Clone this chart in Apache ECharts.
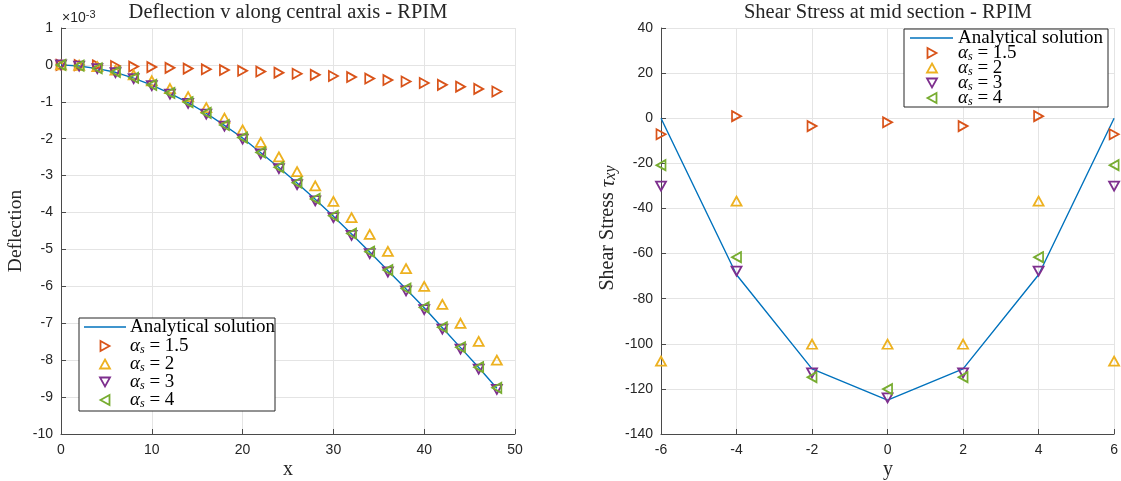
<!DOCTYPE html>
<html><head><meta charset="utf-8">
<script src="https://cdn.jsdelivr.net/npm/echarts@6/dist/echarts.min.js"></script>
<style>html,body{margin:0;padding:0;background:#fff}#c{width:1121px;height:481px}</style>
</head><body><div id="c"></div>
<script>
// ---------- data ----------
const xDefl = [0,2,4,6,8,10,12,14,16,18,20,22,24,26,28,30,32,34,36,38,40,42,44,46,48];
// deflection values in units of 1e-3
const deflAnalytical = [0,-0.03,-0.1,-0.2,-0.36,-0.55,-0.77,-1.02,-1.31,-1.64,-1.98,-2.38,-2.78,-3.2,-3.64,-4.1,-4.58,-5.07,-5.57,-6.07,-6.58,-7.12,-7.66,-8.2,-8.76];
const deflA15 = [0,-0.005,-0.015,-0.03,-0.045,-0.06,-0.08,-0.1,-0.12,-0.14,-0.16,-0.18,-0.21,-0.24,-0.27,-0.3,-0.33,-0.37,-0.41,-0.45,-0.49,-0.54,-0.59,-0.65,-0.72];
const deflA2 = [0,-0.01,-0.05,-0.14,-0.27,-0.43,-0.64,-0.86,-1.16,-1.44,-1.76,-2.1,-2.49,-2.89,-3.28,-3.7,-4.14,-4.59,-5.05,-5.52,-6.0,-6.49,-7.0,-7.49,-8.0];
const deflA3 = [0,-0.03,-0.1,-0.21,-0.37,-0.56,-0.79,-1.04,-1.33,-1.66,-2.01,-2.41,-2.81,-3.24,-3.68,-4.14,-4.62,-5.11,-5.61,-6.12,-6.63,-7.16,-7.7,-8.24,-8.79];
const deflA4 = [0,-0.02,-0.09,-0.19,-0.35,-0.54,-0.76,-1.01,-1.3,-1.63,-1.97,-2.37,-2.77,-3.19,-3.63,-4.09,-4.57,-5.06,-5.56,-6.06,-6.57,-7.11,-7.65,-8.19,-8.75];

const yShear = [-6,-4,-2,0,2,4,6];
const shearAnalytical = [0,-69.4,-111.1,-125,-111.1,-69.4,0];
const shearA15 = [-7.1,0.9,-3.5,-1.8,-3.5,0.9,-7.1];
const shearA2 = [-107.7,-36.8,-100.2,-100.2,-100.2,-36.8,-107.7];
const shearA3 = [-30.1,-67.8,-112.9,-124,-112.9,-67.8,-30.1];
const shearA4 = [-20.8,-61.6,-114.8,-120.1,-114.8,-61.6,-20.8];

const alphaValues = ['1.5','2','3','4'];
const analyticalName = 'Analytical solution';
const titleLeft = 'Deflection v along central axis - RPIM';
const titleRight = 'Shear Stress at mid section - RPIM';

// ---------- style ----------
const C_BLUE = '#0072BD', C_RED = '#D95319', C_YEL = '#EDB120', C_PUR = '#7E2F8E', C_GRN = '#77AC30';
const colors = [C_RED, C_YEL, C_PUR, C_GRN];
// unit triangles (0..1 box): right, up, down, left
const triUnit = [
  [[0,0],[1,0.5],[0,1]],
  [[0.5,0],[1,1],[0,1]],
  [[0,0],[1,0],[0.5,1]],
  [[1,0],[0,0.5],[1,1]]
];
const paths = triUnit.map(t => 'path://M' + t.map(p => (p[0]*10)+','+(p[1]*10)).join(' L') + ' Z');
const sizes = [[9,10],[10,9],[10,9],[9,10]];
const SERIF = '"Liberation Serif", "DejaVu Serif", serif';
const SANS = '"Liberation Sans", Arial, sans-serif';
const TXT = '#262626';

function pairs(xs, ys){ return xs.map((x,i)=>[x, ys[i]]); }

function mkAxis(gridIndex, min, max, interval, isX){
  return {
    type:'value', gridIndex, min, max, interval,
    axisLine:{show:true, onZero:false, lineStyle:{color:'#4a4a4a', width:1}},
    axisTick:{show:true, inside:true, length:5, lineStyle:{color:'#4a4a4a'}},
    axisLabel:{color:TXT, fontFamily:SANS, fontSize:14, margin: isX ? 9 : 8},
    splitLine:{show:true, lineStyle:{color:'#e4e4e4', width:1}}
  };
}

const series = [];
function addSet(gi, xs, ana, sets){
  series.push({type:'line', xAxisIndex:gi, yAxisIndex:gi, data:pairs(xs, ana), showSymbol:false, symbol:'none',
    lineStyle:{color:C_BLUE, width:1.4}, itemStyle:{color:C_BLUE}, animation:false, z:2});
  sets.forEach((d,i)=>{
    series.push({type:'scatter', xAxisIndex:gi, yAxisIndex:gi, data:pairs(xs, d), clip:false,
      symbol:paths[i], symbolSize:sizes[i],
      itemStyle:{color:'rgba(0,0,0,0)', borderColor:colors[i], borderWidth:1.8, opacity:1},
      animation:false, z:3+i});
  });
}
addSet(0, xDefl, deflAnalytical, [deflA15, deflA2, deflA3, deflA4]);
addSet(1, yShear, shearAnalytical, [shearA15, shearA2, shearA3, shearA4]);

const richAlpha = {
  a:{fontFamily:SERIF, fontStyle:'italic', fontSize:19, fill:'#000'},
  s:{fontFamily:SERIF, fontStyle:'italic', fontSize:12, fill:'#000', verticalAlign:'bottom', lineHeight:8},
  t:{fontFamily:SERIF, fontSize:19, fill:'#000'}
};

function legend(box, lineY, rows, lineX0, lineX1, markerX, textX){
  const els = [];
  els.push({type:'rect', shape:{x:box[0], y:box[1], width:box[2], height:box[3]},
    style:{fill:'#fff', stroke:'#262626', lineWidth:1}, z:100});
  els.push({type:'line', shape:{x1:lineX0, y1:lineY, x2:lineX1, y2:lineY},
    style:{stroke:C_BLUE, lineWidth:1.4}, z:101});
  els.push({type:'text', x:textX, y:lineY, style:{text:analyticalName, fontFamily:SERIF, fontSize:19, fill:'#000',
    align:'left', verticalAlign:'middle'}, z:101});
  rows.forEach((ry,i)=>{
    const s = sizes[i];
    const pts = triUnit[i].map(p => [markerX - s[0]/2 + p[0]*s[0], ry - s[1]/2 + p[1]*s[1]]);
    els.push({type:'polygon', shape:{points:pts},
      style:{fill:'none', stroke:colors[i], lineWidth:1.8}, z:101});
    els.push({type:'text', x:textX, y:ry, style:{text:'{a|α}{s|s}{t| = '+alphaValues[i]+'}', rich:richAlpha,
      align:'left', verticalAlign:'middle'}, z:101});
  });
  return els;
}

const graphic = [
  {type:'text', x:288, y:13, style:{text:titleLeft, fontFamily:SERIF, fontSize:20.5, fill:TXT, align:'center', verticalAlign:'middle'}},
  {type:'text', x:888, y:13, style:{text:titleRight, fontFamily:SERIF, fontSize:20.5, fill:TXT, align:'center', verticalAlign:'middle'}},
  {type:'text', x:62, y:18, style:{text:'{m|×10}{e|-3}', rich:{m:{fontFamily:SANS, fontSize:14, fill:TXT}, e:{fontFamily:SANS, fontSize:11, fill:TXT, verticalAlign:'top', lineHeight:18}}, align:'left', verticalAlign:'middle'}},
  {type:'text', x:288, y:470, style:{text:'x', fontFamily:SERIF, fontSize:20, fill:TXT, align:'center', verticalAlign:'middle'}},
  {type:'text', x:888, y:470, style:{text:'y', fontFamily:SERIF, fontSize:20, fill:TXT, align:'center', verticalAlign:'middle'}},
  {type:'text', x:16, y:231, rotation:Math.PI/2, style:{text:'Deflection', fontFamily:SERIF, fontSize:19.5, fill:TXT, align:'center', verticalAlign:'middle'}},
  {type:'text', x:608, y:228, rotation:Math.PI/2, style:{text:'{n|Shear Stress }{t|τ}{s|xy}',
    rich:{n:{fontFamily:SERIF, fontSize:20, fill:TXT}, t:{fontFamily:SERIF, fontStyle:'italic', fontSize:21, fill:TXT},
          s:{fontFamily:SERIF, fontStyle:'italic', fontSize:16, fill:TXT, verticalAlign:'bottom', lineHeight:10}},
    align:'center', verticalAlign:'middle'}},
  ...legend([79,318,196,93], 327, [346,364,382,400], 84, 126, 105, 130),
  ...legend([904,29,204,78], 38, [53,68,83,98], 910, 953, 932, 958)
];

const option = {
  animation:false,
  backgroundColor:'#fff',
  grid:[
    {left:61, right:1121-515, top:28, bottom:481-434, containLabel:false},
    {left:661, right:1121-1115, top:28, bottom:481-434, containLabel:false}
  ],
  xAxis:[mkAxis(0, 0, 50, 10, true), mkAxis(1, -6, 6, 2, true)],
  yAxis:[mkAxis(0, -10, 1, 1, false), mkAxis(1, -140, 40, 20, false)],
  series,
  graphic
};
const chart = echarts.init(document.getElementById('c'), null, {renderer:'canvas'});
chart.setOption(option);
</script></body></html>
